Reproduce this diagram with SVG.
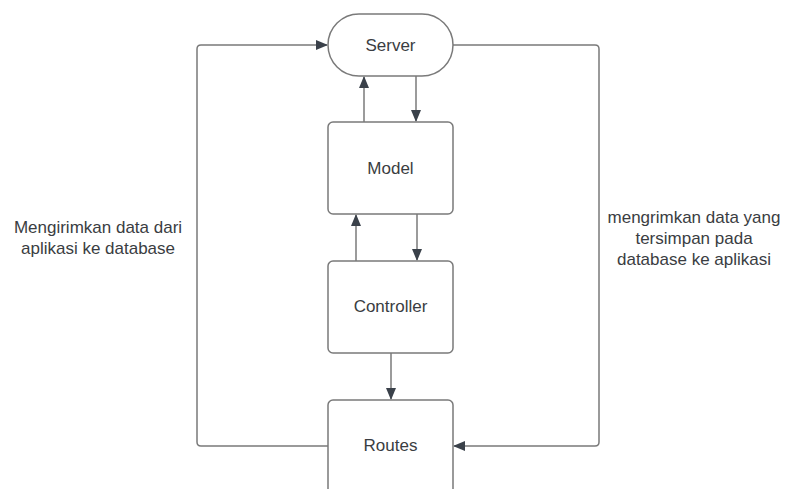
<svg xmlns="http://www.w3.org/2000/svg" width="788" height="489" viewBox="0 0 788 489">
<style>
.node{fill:#ffffff;stroke:#7a7a7a;stroke-width:1.5}
.lbl{font-family:"Liberation Sans",Arial,sans-serif;font-size:17px;fill:#3a3d42;text-anchor:middle;dominant-baseline:central}
.edge{fill:none;stroke:#7a7a7a;stroke-width:1.5}
</style>
<defs>
<marker id="ah" markerWidth="12" markerHeight="10" refX="11" refY="5" orient="auto" markerUnits="userSpaceOnUse">
<path d="M0,0 L12,5 L0,10 z" fill="#3a414a"/>
</marker>
</defs>
<rect width="788" height="489" fill="#ffffff"/>
<g id="connectors">
<path class="edge" d="M364,122 L364,77" marker-end="url(#ah)"/>
<path class="edge" d="M416,76 L416,121" marker-end="url(#ah)"/>
<path class="edge" d="M356,261 L356,215" marker-end="url(#ah)"/>
<path class="edge" d="M417,214 L417,260" marker-end="url(#ah)"/>
<path class="edge" d="M391,353 L391,399" marker-end="url(#ah)"/>
<path class="edge" d="M328,446 L201,446 Q197,446 197,442 L197,49 Q197,45 201,45 L327,45" marker-end="url(#ah)"/>
<path class="edge" d="M453,45 L595,45 Q599,45 599,49 L599,442 Q599,446 595,446 L454,446" marker-end="url(#ah)"/>
</g>
<g id="server">
<rect class="node" x="328" y="14" width="125" height="62" rx="31" ry="31"/>
<text class="lbl" x="390.5" y="45">Server</text>
</g>
<g id="model">
<rect class="node" x="328" y="122" width="125" height="92" rx="5"/>
<text class="lbl" x="390.5" y="168">Model</text>
</g>
<g id="controller">
<rect class="node" x="328" y="261" width="125" height="92" rx="5"/>
<text class="lbl" x="390.5" y="306">Controller</text>
</g>
<g id="routes">
<rect class="node" x="328" y="400" width="125" height="100" rx="5"/>
<text class="lbl" x="390.5" y="445">Routes</text>
</g>
<g id="label-left">
<text class="lbl" x="98" y="227">Mengirimkan data dari</text>
<text class="lbl" x="98" y="248">aplikasi ke database</text>
</g>
<g id="label-right">
<text class="lbl" x="694" y="217">mengrimkan data yang</text>
<text class="lbl" x="694" y="238">tersimpan pada</text>
<text class="lbl" x="694" y="259">database ke aplikasi</text>
</g>
</svg>
